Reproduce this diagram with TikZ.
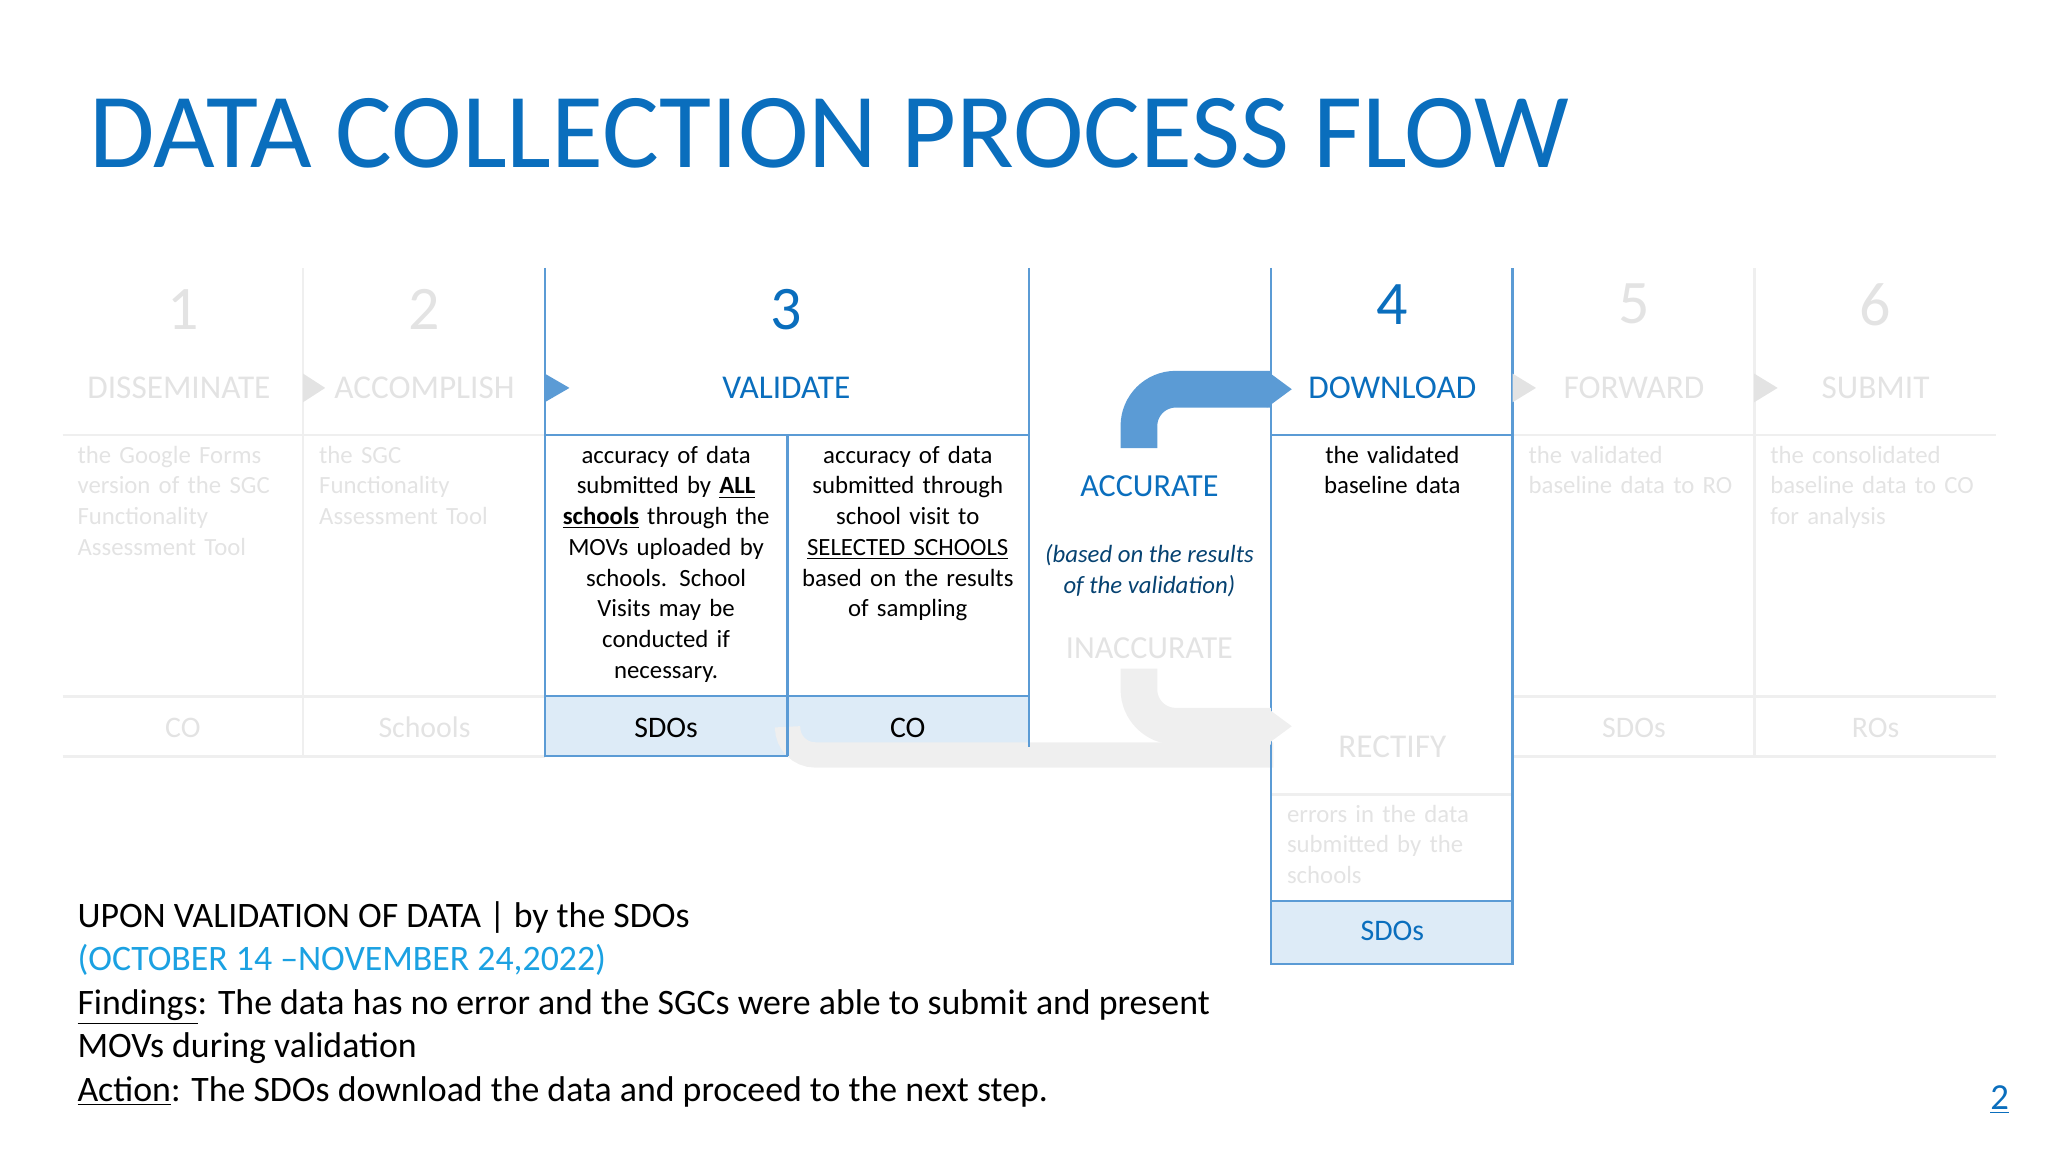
\documentclass[tikz,border=0pt]{standalone}
\usepackage{fontspec}
\setmainfont{Carlito}
\usetikzlibrary{arrows.meta}
\definecolor{tblue}{HTML}{0A6EBD}
\definecolor{lblue}{HTML}{5B9BD5}
\definecolor{fillb}{HTML}{DDEBF7}
\definecolor{faint}{HTML}{E3E3E3}
\definecolor{fline}{HTML}{EFEFEF}
\definecolor{cyanb}{HTML}{1BA1E2}
\hyphenpenalty=10000 \exhyphenpenalty=10000
\tikzset{
 num/.style={font=\fontsize{27}{30}\selectfont},
 head/.style={font=\fontsize{14.5}{17}\selectfont},
 body/.style={font=\fontsize{10.8}{13.4}\selectfont,text width=3.5cm,align=center,anchor=north,inner sep=0pt},
 bodyl/.style={font=\fontsize{10.8}{13.4}\selectfont,text width=3.35cm,align=left,anchor=north west,inner sep=0pt,text=faint},
 role/.style={font=\fontsize{13}{15}\selectfont},
 bl/.style={draw=lblue,line width=1pt},
 fl/.style={draw=fline,line width=1.2pt},
}
\begin{document}
\begin{tikzpicture}[x=0.02cm,y=-0.02cm]
\useasboundingbox (0,0) rectangle (1568,882);
\node[anchor=west,text=tblue,font=\fontsize{46.4}{50}\selectfont,inner sep=0pt] (title) at (68,102) {DATA COLLECTION PROCESS FLOW};
% faint grid
\draw[fl] (48,333) -- (417,333) (48,533) -- (417,533) (48,579) -- (417,579);
\draw[fl] (1158,333) -- (1528,333) (1158,533) -- (1528,533) (1158,579) -- (1528,579);
\draw[fl] (232,205) -- (232,579) (1343,205) -- (1343,579);
\draw[fl] (973,608) -- (1158,608);
% fills
\fill[fillb] (417,533) rectangle (788,579);
\fill[fillb] (973,690) rectangle (1158,738);
% gray connector from validate
\draw[fline,line width=11pt,rounded corners=12pt] (603,560) -- (603,578) -- (975,578);
% blue frames
\draw[bl] (417,205) -- (417,579) -- (603,579);
\draw[bl] (417,333) -- (788,333);
\draw[bl] (603,333) -- (603,579);
\draw[bl] (417,533) -- (788,533);
\draw[bl] (788,205) -- (788,572);
\draw[bl] (973,205) -- (973,738) -- (1158,738) -- (1158,205);
\draw[bl] (973,333) -- (1158,333);
\draw[bl] (973,690) -- (1158,690);
% triangles
\fill[faint] (232,286) -- (249,297) -- (232,308) -- cycle;
\fill[lblue] (417,286) -- (436,297) -- (417,308) -- cycle;
\fill[faint] (1158,286) -- (1176,297) -- (1158,308) -- cycle;
\fill[faint] (1343,286) -- (1361,297) -- (1343,308) -- cycle;
% headers
\node[num,text=faint] (n1) at (140,237) {1};
\node[num,text=faint] (n2) at (325,237) {2};
\node[num,text=tblue] (n3) at (602,237) {3};
\node[num,text=tblue] (n4) at (1066,233) {4};
\node[num,text=faint] (n5) at (1251,233) {5};
\node[num,text=faint] (n6) at (1436,233) {6};
\node[head,text=faint] (h1) at (137,297) {DISSEMINATE};
\node[head,text=faint] (h2) at (325,297) {ACCOMPLISH};
\node[head,text=tblue] (h3) at (602,297) {VALIDATE};
\node[head,text=tblue] (h4) at (1066,297) {DOWNLOAD};
\node[head,text=faint] (h5) at (1251,297) {FORWARD};
\node[head,text=faint] (h6) at (1436,297) {SUBMIT};
% bodies
\node[bodyl] (b1) at (59,341) {the Google Forms\\version of the SGC\\Functionality\\Assessment Tool};
\node[bodyl] (b2) at (244,341) {the SGC\\Functionality\\Assessment Tool};
\node[body] (b3a) at (510,341) {accuracy of data\\submitted by \textbf{\underline{ALL}}\\\textbf{\underline{schools}} through the\\MOVs uploaded by\\schools. School\\Visits may be\\conducted if\\necessary.};
\node[body] (b3b) at (695,341) {accuracy of data\\submitted through\\school visit to\\\underline{SELECTED SCHOOLS}\\based on the results\\of sampling};
\node[body] (b4) at (1066,341) {the validated\\baseline data};
\node[bodyl] (b5) at (1170,341) {the validated\\baseline data to RO};
\node[bodyl] (b6) at (1355,341) {the consolidated\\baseline data to CO\\for analysis};
% roles
\node[role,text=faint] (r1) at (140,557) {CO};
\node[role,text=faint] (r2) at (325,557) {Schools};
\node[role] (r3a) at (510,557) {SDOs};
\node[role] (r3b) at (695,557) {CO};
\node[role,text=faint] (r5) at (1251,557) {SDOs};
\node[role,text=faint] (r6) at (1436,557) {ROs};
% decision
\node[text=tblue,font=\fontsize{14}{16}\selectfont] (acc) at (880,372) {ACCURATE};
\node[font=\itshape\fontsize{10.8}{13.4}\selectfont,text=tblue!60!black,align=center] (basis) at (880,437) {(based on the results\\of the validation)};
\node[text=faint,font=\fontsize{14}{16}\selectfont] (inacc) at (880,496) {INACCURATE};
% rectify
\node[head,text=faint] (rect) at (1066,572) {RECTIFY};
\node[bodyl,text width=3.4cm] (err) at (985,616) {errors in the data\\submitted by the\\schools};
\node[role,text=tblue] (r4) at (1066,713) {SDOs};
% arrows
\coordinate (ua) at (872,343);
\coordinate (ub) at (872,298);
\coordinate (uc) at (973,298);
\draw[lblue,line width=16pt,rounded corners=16pt] (ua) -- (ub) -- (uc);
\fill[lblue] (970,284) -- (989,298) -- (970,312) -- cycle;
\coordinate (da) at (872,512);
\coordinate (db) at (872,556);
\coordinate (dc) at (973,556);
\draw[fline,line width=16pt,rounded corners=16pt] (da) -- (db) -- (dc);
\fill[fline] (970,542) -- (989,556) -- (970,570) -- cycle;
% bottom text
\node[anchor=north west,inner sep=0pt,align=left,font=\fontsize{15.6}{18.9}\selectfont] (notes) at (59,690)
{UPON VALIDATION OF DATA | by the SDOs\\
\textcolor{cyanb}{(OCTOBER 14 --NOVEMBER 24,2022)}\\
\underline{Findings}: The data has no error and the SGCs were able to submit and present\\
MOVs during validation\\
\underline{Action}: The SDOs download the data and proceed to the next step.};
\node[text=tblue,font=\fontsize{16}{18}\selectfont] (pg) at (1531,842) {\underline{2}};
\end{tikzpicture}
\end{document}
